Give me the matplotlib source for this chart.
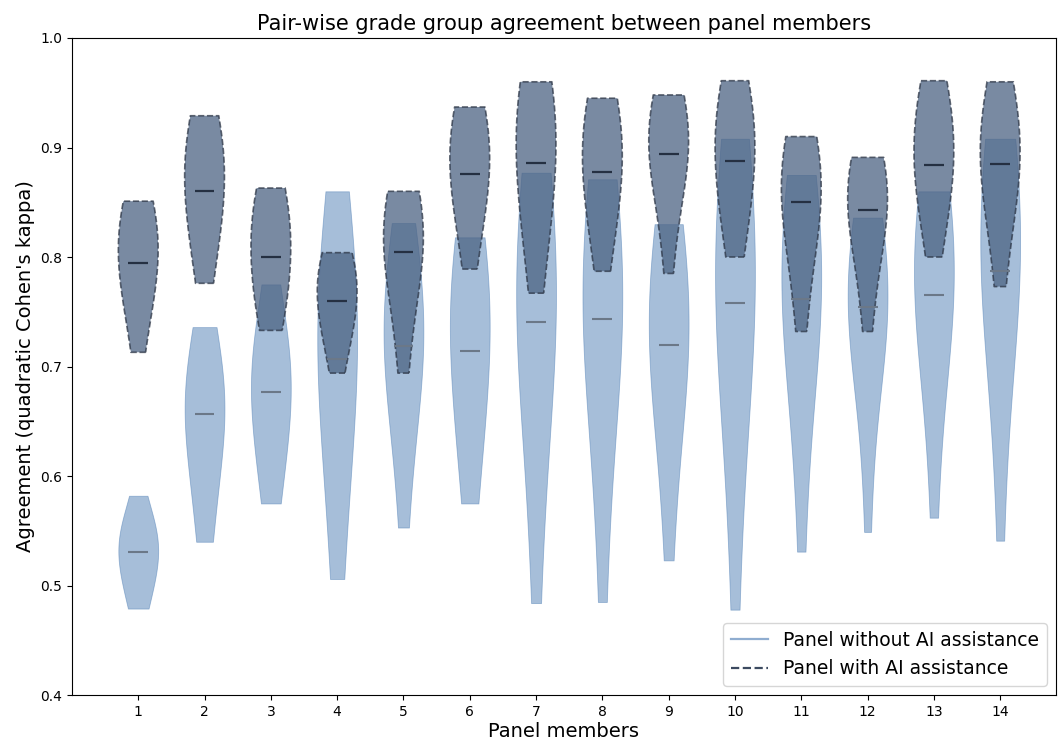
import numpy as np
import matplotlib
matplotlib.use("Agg")
import matplotlib.pyplot as plt
from matplotlib.lines import Line2D

members = list(range(1, 15))

# pair-wise kappa of each member vs the other 13 members
kappa_no_ai = [
    [.479, .485, .495, .510, .520, .528, .531, .538, .542, .546, .550, .562, .582],
    [.540, .555, .580, .625, .645, .652, .657, .663, .670, .680, .695, .715, .736],
    [.575, .585, .610, .640, .660, .670, .677, .690, .700, .708, .716, .735, .775],
    [.506, .560, .620, .665, .688, .700, .707, .738, .757, .770, .790, .820, .860],
    [.553, .620, .665, .692, .705, .714, .719, .738, .752, .765, .780, .805, .831],
    [.575, .600, .645, .680, .700, .709, .714, .745, .768, .785, .798, .809, .818],
    [.484, .590, .660, .700, .722, .735, .741, .775, .800, .820, .840, .858, .877],
    [.485, .600, .665, .705, .725, .737, .743, .772, .792, .810, .830, .850, .871],
    [.523, .610, .660, .690, .705, .714, .720, .745, .765, .782, .800, .815, .830],
    [.478, .600, .680, .720, .740, .751, .758, .795, .818, .838, .858, .880, .908],
    [.531, .640, .700, .730, .748, .756, .762, .790, .808, .825, .840, .858, .875],
    [.549, .650, .705, .728, .740, .748, .754, .768, .780, .792, .805, .820, .836],
    [.562, .660, .715, .740, .752, .760, .765, .795, .815, .830, .842, .852, .860],
    [.541, .670, .730, .760, .773, .782, .787, .825, .850, .866, .880, .894, .908],
]

kappa_ai = [
    [.713, .740, .762, .776, .786, .791, .795, .812, .825, .835, .842, .847, .851],
    [.776, .792, .818, .838, .850, .856, .860, .882, .895, .905, .912, .920, .929],
    [.733, .742, .758, .772, .785, .794, .800, .820, .833, .842, .850, .857, .863],
    [.694, .712, .730, .742, .751, .756, .760, .774, .783, .790, .795, .800, .804],
    [.694, .730, .768, .786, .796, .801, .805, .825, .836, .843, .849, .855, .860],
    [.789, .818, .840, .856, .866, .872, .876, .900, .912, .920, .926, .932, .937],
    [.767, .805, .833, .852, .867, .878, .886, .920, .933, .941, .948, .954, .960],
    [.787, .812, .838, .854, .866, .873, .878, .902, .916, .925, .932, .939, .945],
    [.785, .832, .860, .876, .886, .891, .894, .912, .923, .930, .936, .942, .948],
    [.800, .818, .842, .862, .874, .883, .888, .910, .922, .932, .940, .950, .961],
    [.732, .775, .808, .827, .839, .846, .850, .870, .882, .890, .897, .904, .910],
    [.732, .775, .803, .822, .833, .839, .843, .860, .870, .876, .881, .886, .891],
    [.800, .828, .850, .865, .875, .880, .884, .907, .920, .930, .939, .950, .961],
    [.773, .818, .847, .863, .873, .880, .885, .903, .915, .925, .935, .948, .960],
]

fig = plt.figure(figsize=(10.58, 7.45), dpi=100)
ax = fig.add_axes([0.068, 0.067, 0.930, 0.882])

# panel without AI
vp = ax.violinplot(kappa_no_ai, positions=members, widths=0.6, bw_method=1.0,
                   showmedians=True, showextrema=False)
for b in vp['bodies']:
    b.set_facecolor('#4f7fb5')
    b.set_edgecolor('#4f7fb5')
    b.set_linewidth(0.6)
    b.set_alpha(0.5)
vp['cmedians'].set_color('#6b7888')
vp['cmedians'].set_linewidth(1.5)

# panel with AI
vp2 = ax.violinplot(kappa_ai, positions=members, widths=0.6, bw_method=1.0,
                    showmedians=True, showextrema=False)
for b in vp2['bodies']:
    b.set_facecolor('#4b6282')
    b.set_edgecolor('#2b3444')
    b.set_linestyle('--')
    b.set_linewidth(1.2)
    b.set_alpha(0.74)
vp2['cmedians'].set_color('#253042')
vp2['cmedians'].set_linewidth(1.6)

ax.set_xticks(members)
ax.set_xlim(0, 14.84)
ax.set_ylim(0.4, 1.0)
ax.tick_params(labelsize=10)
ax.set_title('Pair-wise grade group agreement between panel members', fontsize=15)
ax.set_xlabel('Panel members', fontsize=14, labelpad=2)
ax.set_ylabel("Agreement (quadratic Cohen's kappa)", fontsize=14)

handles = [Line2D([0], [0], color='#8fadd0', lw=1.6),
           Line2D([0], [0], color='#3c4a60', lw=1.6, ls='--')]
ax.legend(handles, ['Panel without AI assistance', 'Panel with AI assistance'],
          loc='lower right', fontsize=13.5)

fig.savefig('out.png', dpi=100)
